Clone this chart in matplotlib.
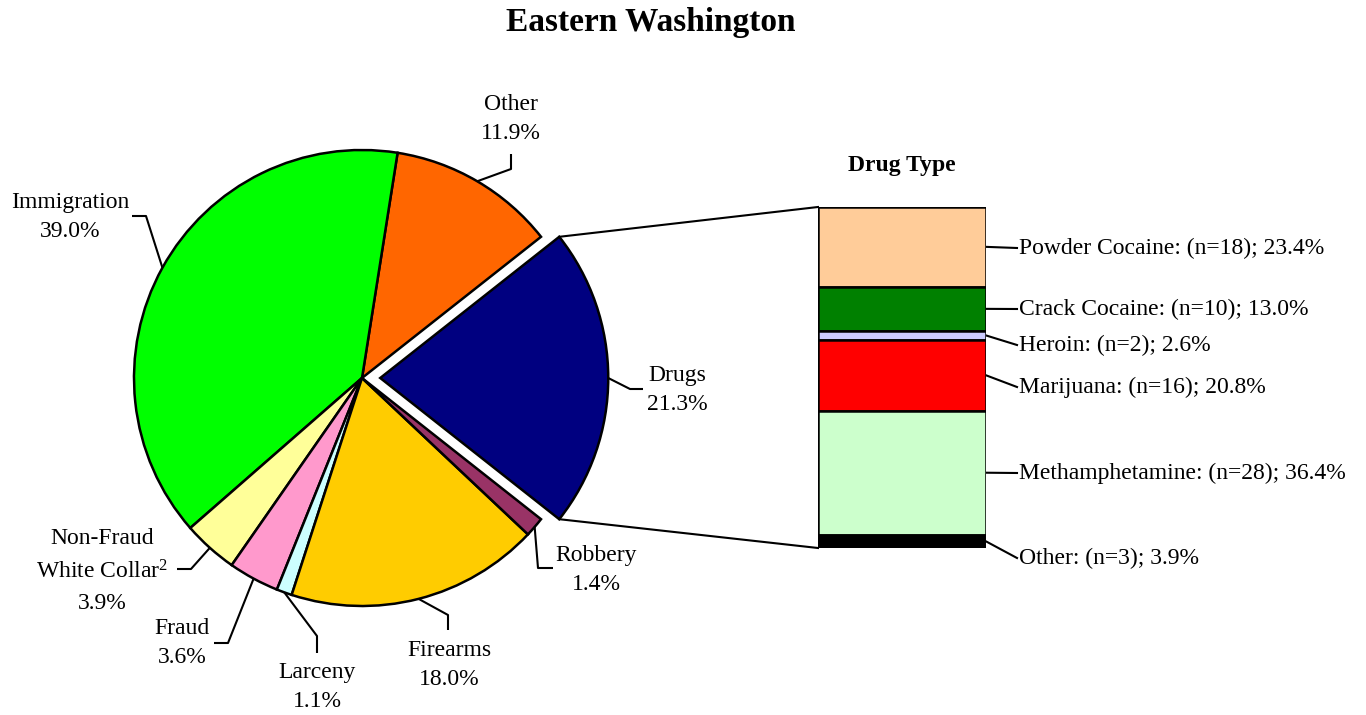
import numpy as np
import matplotlib
matplotlib.use("Agg")
import matplotlib.pyplot as plt

plt.rcParams["font.family"] = ["Liberation Serif", "DejaVu Serif"]
plt.rcParams["mathtext.fontset"] = "custom"
plt.rcParams["mathtext.rm"] = "Liberation Serif"
plt.rcParams["mathtext.it"] = "Liberation Serif:italic"

# Données : répartition des infractions (camembert)
categories = ["Drugs", "Other", "Immigration", "Non-Fraud\nWhite Collar$^{\\mathrm{2}}$",
              "Fraud", "Larceny", "Firearms", "Robbery"]
pourcentages = [21.3, 11.9, 39.0, 3.9, 3.6, 1.1, 18.0, 1.4]
couleurs = ["#000080", "#FF6600", "#00FF00", "#FFFF99",
            "#FF99CC", "#CCFFFF", "#FFCC00", "#993366"]

# Données : type de drogue (barre empilée, de haut en bas)
drogues = ["Powder Cocaine", "Crack Cocaine", "Heroin", "Marijuana",
           "Methamphetamine", "Other"]
drogues_n = [18, 10, 2, 16, 28, 3]
drogues_pct = [23.4, 13.0, 2.6, 20.8, 36.4, 3.9]
drogues_couleurs = ["#FFCC99", "#008000", "#CCCCFF", "#FF0000", "#CCFFCC", "#000000"]

W, H = 1366, 715
FS = 17

fig = plt.figure(figsize=(W / 100, H / 100), dpi=100)
ax = fig.add_axes([0, 0, 1, 1])


def Y(y):
    # coordonnées "image" (y vers le bas) -> coordonnées axes
    return H - y


# --- camembert ---
cx, cy, r = 362, 378, 228
total = sum(pourcentages)
start = -pourcentages[0] / total * 360 / 2
# explode est en unités de données (pixels ici)
explode = [0.08 * r] + [0] * (len(pourcentages) - 1)
wedges, _ = ax.pie(pourcentages, colors=couleurs, explode=explode, startangle=start,
                   center=(cx, Y(cy)), radius=r, frame=True,
                   wedgeprops=dict(edgecolor="black", linewidth=1.8))
ax.set_xlim(0, W)
ax.set_ylim(0, H)
ax.set_aspect("equal")
ax.axis("off")

# Position des étiquettes : (x, y du texte, interligne, points du trait après le bord)
etiquettes = {
    "Drugs": ((677, 390), 1.45, [(630, 389), (643, 389)]),
    "Other": ((511, 119), 1.45, [(511, 169), (511, 154)]),
    "Immigration": ((70, 217), 1.45, [(146, 216), (132, 216)]),
    categories[3]: ((102, 571), 1.6, [(191, 569), (177, 569)]),
    "Fraud": ((182, 643), 1.45, [(228, 643), (214, 643)]),
    "Larceny": ((317, 687), 1.45, [(317, 636), (317, 653)]),
    "Firearms": ((449, 665), 1.45, [(448, 615), (448, 630)]),
    "Robbery": ((596, 570), 1.45, [(538, 568), (553, 568)]),
}

for w, nom, pct in zip(wedges, categories, pourcentages):
    mid = np.deg2rad((w.theta1 + w.theta2) / 2)
    x0 = w.center[0] + w.r * np.cos(mid)
    y0 = w.center[1] + w.r * np.sin(mid)
    (tx, ty), interligne, pts = etiquettes[nom]
    xs = [x0] + [p[0] for p in pts]
    ys = [y0] + [Y(p[1]) for p in pts]
    ax.plot(xs, ys, color="black", lw=1.5, solid_capstyle="butt")
    ax.text(tx, Y(ty), f"{nom}\n{pct:.1f}%", ha="center", va="center",
            fontsize=FS, linespacing=interligne)

# --- barre empilée ---
bar_l, bar_r, bar_t, bar_b = 818, 986, 207, 548
axb = fig.add_axes([bar_l / W, Y(bar_b) / H, (bar_r - bar_l) / W, (bar_b - bar_t) / H])
tot_d = sum(drogues_pct)
bas = tot_d
centres = []
for pct, c in zip(drogues_pct, drogues_couleurs):
    bas -= pct
    axb.bar(0, pct, bottom=bas, width=1, color=c, edgecolor="black", linewidth=1.8)
    centres.append(bas + pct / 2)
axb.set_xlim(-0.5, 0.5)
axb.set_ylim(0, tot_d)
axb.axis("off")

# lignes de liaison camembert -> barre
wd = wedges[0]
for theta, yb in ((wd.theta2, bar_t), (wd.theta1, bar_b)):
    a = np.deg2rad(theta)
    ax.plot([wd.center[0] + wd.r * np.cos(a), bar_l], [wd.center[1] + wd.r * np.sin(a), Y(yb)],
            color="black", lw=1.5)

# étiquettes de la barre
y_textes = [248, 309, 345, 387, 473, 558]
for nom, n, pct, yc, yt in zip(drogues, drogues_n, drogues_pct, centres, y_textes):
    y_px = Y(bar_b) + yc / tot_d * (bar_b - bar_t)
    ax.plot([bar_r, 1017], [y_px, Y(yt)], color="black", lw=1.5)
    ax.text(1019, Y(yt), f"{nom}: (n={n}); {pct:.1f}%", ha="left", va="center", fontsize=FS)

ax.text(902, Y(165), "Drug Type", ha="center", va="center", fontsize=FS, fontweight="bold")
ax.text(W / 2 - 32, Y(22), "Eastern Washington", ha="center", va="center",
        fontsize=24, fontweight="bold")

fig.savefig("out.png", dpi=100)
